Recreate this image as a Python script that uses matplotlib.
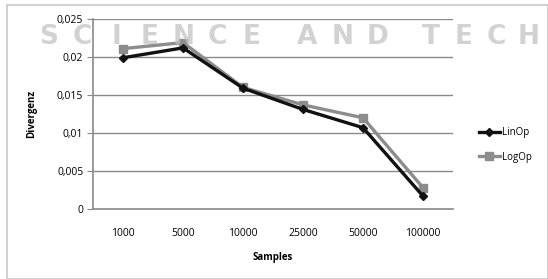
import matplotlib.pyplot as plt
import numpy as np

# Data
samples = ['1000', '5000', '10000', '25000', '50000', '100000']
linop = [0.0199, 0.0212, 0.0159, 0.0131, 0.0107, 0.0017]
logop = [0.0211, 0.0219, 0.0160, 0.0137, 0.0120, 0.0028]
yticks = [0, 0.005, 0.01, 0.015, 0.02, 0.025]
ytick_labels = ['0', '0,005', '0,01', '0,015', '0,02', '0,025']

# watermark words and their pixel spans (left, right)
wm_words = ['SCIENCE', 'AND', 'TECH']
wm_spans = [(32, 268), (290, 395), (415, 545)]

plt.rcParams['font.family'] = ['Open Sans', 'DejaVu Sans']

fig = plt.figure(figsize=(5.48, 2.79), dpi=100)
ax = fig.add_axes([93 / 548, 1 - 209 / 279, 360 / 548, 190 / 279])

x = np.arange(len(samples))
ax.plot(x, logop, color='#8c8c8c', marker='s', markersize=6, linewidth=2.4, label='LogOp', zorder=3)
ax.plot(x, linop, color='#111111', marker='D', markersize=4, linewidth=2.4, label='LinOp', zorder=4)

ax.set_xlim(-0.5, len(samples) - 0.5)
ax.set_ylim(0, 0.025)
ax.set_yticks(yticks)
ax.set_yticklabels(ytick_labels)
ax.set_xticks(x)
ax.set_xticklabels(samples)
ax.tick_params(axis='y', labelsize=7.5, length=4, color='#888888', pad=3)
ax.tick_params(axis='x', labelsize=7.5, length=0, pad=14)
ax.grid(axis='y', color='#8a8a8a', linewidth=1)
ax.set_axisbelow(True)
for s in ['top', 'right']:
    ax.spines[s].set_visible(False)
ax.spines['left'].set_color('#8a8a8a')
ax.spines['bottom'].set_color('#8a8a8a')
ax.spines['left'].set_linewidth(1.2)
ax.spines['bottom'].set_linewidth(1.2)

ax.set_xlabel('Samples', fontsize=7, fontweight='bold', labelpad=9)
ax.set_ylabel('Divergenz', fontsize=7, fontweight='bold', labelpad=14)

handles, labels = ax.get_legend_handles_labels()
fig.legend(handles[::-1], labels[::-1], loc='center left', bbox_to_anchor=(470 / 548, 1 - 145 / 279),
           frameon=False, fontsize=7, handlelength=2.2, labelspacing=1.4, handletextpad=0.2)

# chart frame
frame = plt.Rectangle((7 / 548, 0), 1 - 7 / 548, 1 - 5 / 279, transform=fig.transFigure,
                      fill=False, edgecolor='#c8c8c8', linewidth=1.2)
fig.patches.append(frame)

# watermark, letters spread over each word's span
for word, (x0, x1) in zip(wm_words, wm_spans):
    step = (x1 - x0) / len(word)
    for i, ch in enumerate(word):
        fig.text((x0 + step * (i + 0.5)) / 548, 1 - 37 / 279, ch, fontsize=19, fontweight='bold',
                 family='DejaVu Sans', color='#c0c0c0', alpha=0.7, ha='center', va='center', zorder=10)

fig.savefig('out.png', dpi=100)
